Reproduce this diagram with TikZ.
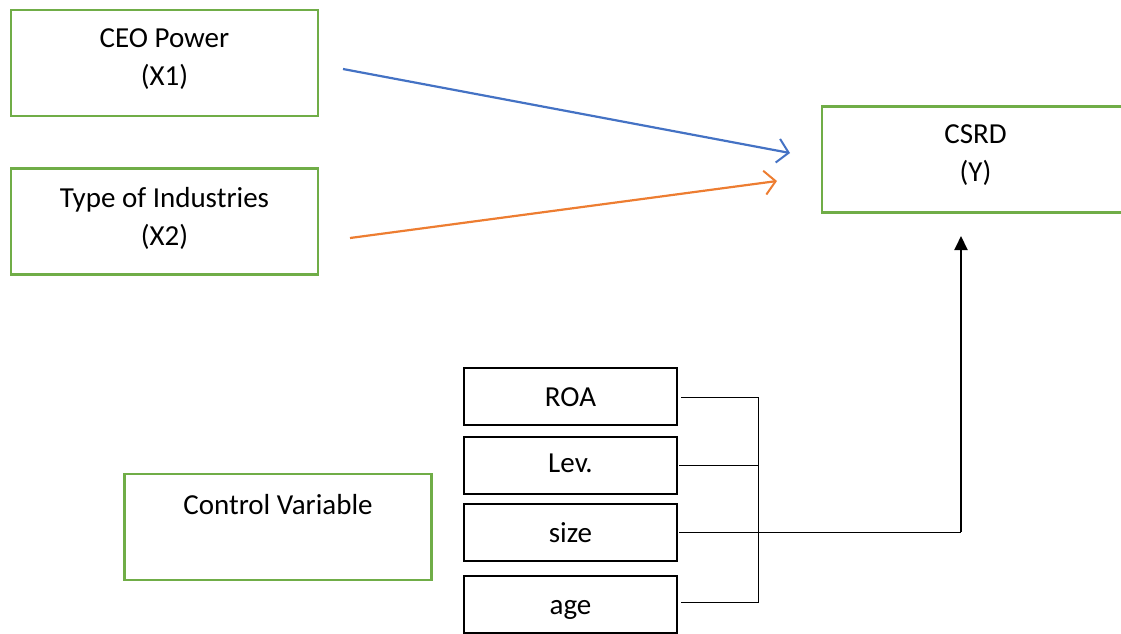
\documentclass[tikz,border=0pt]{standalone}
\usepackage{fontspec}
\setmainfont{Carlito}
\usetikzlibrary{arrows.meta}
\definecolor{boxgreen}{HTML}{70AD47}
\definecolor{arrblue}{HTML}{4472C4}
\definecolor{arrorange}{HTML}{ED7D31}
\tikzset{
  gbox/.style={draw=boxgreen, line width=2.4pt, minimum width=307pt, minimum height=106pt, inner sep=0pt},
  kbox/.style={draw=black, line width=2pt, minimum width=213pt, minimum height=57pt, inner sep=0pt},
  ktxt/.style={inner sep=0pt, font=\fontsize{29}{34}\selectfont},
  txt/.style={align=center, inner sep=0pt, font=\fontsize{29}{38}\selectfont},
  thin/.style={draw=black, line width=1pt},
  carrow/.style={line width=2.2pt, -{Straight Barb[length=11pt,width=24pt,line width=2pt]}},
}
\begin{document}
\begin{tikzpicture}[x=1pt,y=-1pt]
\useasboundingbox (0,0) rectangle (1121,633);
\clip (0,0) rectangle (1121,633);
% green boxes
\node[gbox] (ceo) at (164.5,63) {};
\node[txt] (ceot) at (164.5,59) {CEO Power\\(X1)};
\node[gbox] (type) at (164.5,221.5) {};
\node[txt] (typet) at (164.5,218.5) {Type of Industries\\(X2)};
\node[gbox] (csrd) at (975.5,159.5) {};
\node[txt] (csrdt) at (975.5,155) {CSRD\\(Y)};
\node[gbox] (ctrl) at (278,527) {};
\node[txt] (ctrlt) at (278,505) {Control Variable};
% black boxes
\node[kbox] (roa) at (570.5,396.5) {};
\node[kbox] (lev) at (570.5,465.5) {};
\node[kbox] (size) at (570.5,532.5) {};
\node[kbox] (age) at (570.5,604.5) {};
\node[ktxt] (roat) at (570.5,397) {ROA};
\node[ktxt] (levt) at (570.5,463) {Lev.};
\node[ktxt] (sizet) at (570.5,533) {size};
\node[ktxt] (aget) at (570.5,610) {age};
% coordinates
\coordinate (a1s) at (343,69);
\coordinate (a1e) at (790,153);
\coordinate (a2s) at (350,238);
\coordinate (a2e) at (777,181);
\coordinate (bus) at (758,397);
\coordinate (bus2) at (758,602);
\coordinate (corner) at (961,532);
\coordinate (up) at (961,236);
% colored arrows
\draw[carrow, arrblue] (a1s) -- (a1e);
\draw[carrow, arrorange] (a2s) -- (a2e);
% bracket connectors
\draw[thin] (roa.east |- bus) ++(3,0) -- (bus) -- (bus2) -- ([xshift=3pt]age.east |- bus2);
\draw[thin] ([xshift=1pt]lev.east) -- (lev.east -| bus);
\draw[thin] ([xshift=1pt]size.east) -- (size.east -| corner);
\draw[line width=2pt, -{Triangle[length=14pt,width=13pt]}] (corner) -- (up);
\end{tikzpicture}
\end{document}
